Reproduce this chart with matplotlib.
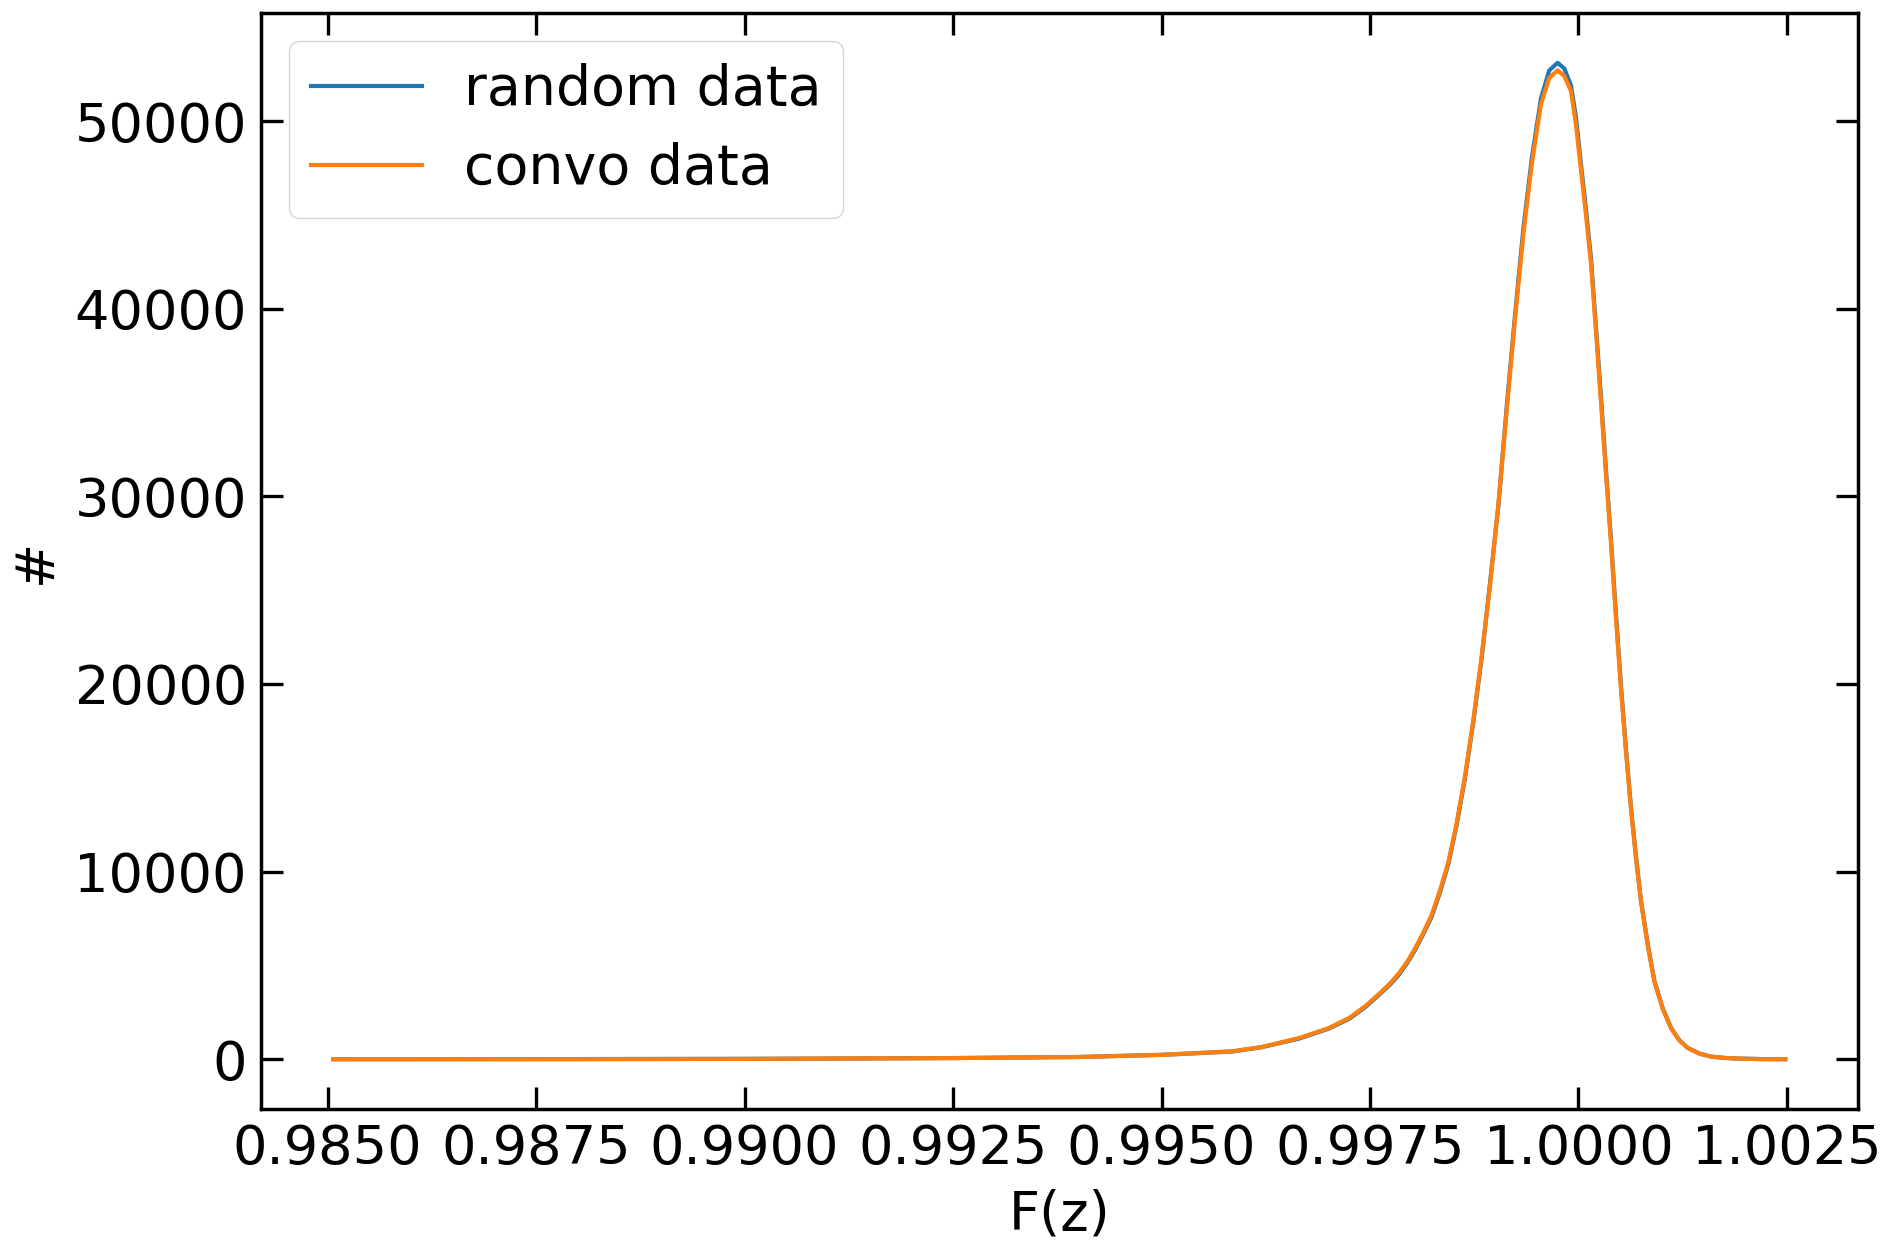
import matplotlib
matplotlib.use("Agg")
import matplotlib.pyplot as plt

# bin centres of F(z)
fz = [0.98507, 0.98750, 0.99000, 0.99250, 0.99400, 0.99500, 0.99585, 0.99620,
      0.99665, 0.99700, 0.99725, 0.99745, 0.99764, 0.99775, 0.99785, 0.99795,
      0.99804, 0.99814, 0.99824, 0.99834, 0.99844, 0.99854, 0.99864, 0.99874,
      0.99884, 0.99894, 0.99904, 0.99914, 0.99924, 0.99934, 0.99944, 0.99955,
      0.99965, 0.99975, 0.99983, 0.99991, 0.99997, 1.00003, 1.00009, 1.00015,
      1.00021, 1.00027, 1.00033, 1.00039, 1.00045, 1.00051, 1.00057, 1.00063,
      1.00069, 1.00075, 1.00083, 1.00091, 1.00101, 1.00111, 1.00121, 1.00131,
      1.00145, 1.00159, 1.00175, 1.00191, 1.00220, 1.00248]

convo_counts = [0, 5, 20, 60, 120, 230, 425, 650,
                1130, 1650, 2200, 2850, 3610, 4080, 4600, 5220,
                5900, 6750, 7700, 9000, 10500, 12600, 15100, 18100,
                21500, 25300, 29600, 34600, 39500, 44000, 47700, 50900,
                52300, 52700, 52400, 51600, 49800, 47400, 45000, 42400,
                38800, 35000, 31200, 27500, 23500, 19700, 16400, 13350,
                10700, 8400, 6100, 4150, 2700, 1660, 1000, 600,
                300, 140, 70, 35, 8, 0]

random_counts = [0, 6, 18, 62, 118, 235, 410, 640,
                 1100, 1620, 2150, 2800, 3560, 4020, 4520, 5150,
                 5820, 6680, 7600, 8900, 10400, 12500, 15000, 18000,
                 21400, 25400, 29500, 34800, 39700, 44300, 48000, 51200,
                 52700, 53100, 52800, 51900, 50200, 47700, 45300, 42700,
                 39000, 35300, 31400, 27700, 23700, 19900, 16500, 13400,
                 10800, 8450, 6150, 4180, 2720, 1670, 1010, 605,
                 300, 140, 70, 35, 8, 0]

FS = 39

fig = plt.figure(figsize=(18.9, 12.4), dpi=100)
ax = fig.add_axes([0.138, 0.1056, 0.845, 0.8839])

ax.plot(fz, random_counts, color="tab:blue", lw=3, label="random data")
ax.plot(fz, convo_counts, color="tab:orange", lw=3, label="convo data")

ax.set_xticks([0.985, 0.9875, 0.99, 0.9925, 0.995, 0.9975, 1.0, 1.0025])
ax.set_xticklabels(["0.9850", "0.9875", "0.9900", "0.9925", "0.9950",
                    "0.9975", "1.0000", "1.0025"])
ax.set_yticks([0, 10000, 20000, 30000, 40000, 50000])

ax.tick_params(direction="in", top=True, right=True, length=16, width=2.4,
               labelsize=FS, pad=10)
for s in ax.spines.values():
    s.set_linewidth(2.5)

ax.set_xlabel("F(z)", fontsize=FS, labelpad=10)
ax.set_ylabel("#", fontsize=FS, labelpad=9)

leg = ax.legend(loc="upper left", fontsize=40, handlelength=2.0,
                handletextpad=0.75, labelspacing=0.45, borderaxespad=0.5)
for line in leg.get_lines():
    line.set_linewidth(3)

fig.savefig("out.png", dpi=100)
